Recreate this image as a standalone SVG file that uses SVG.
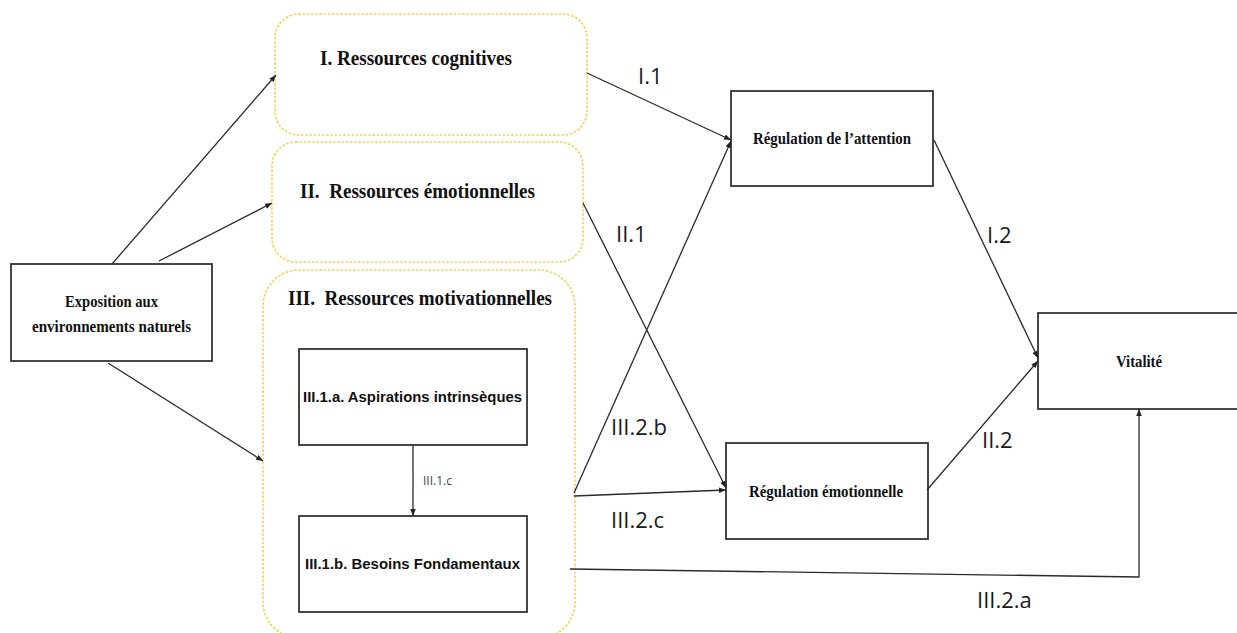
<svg xmlns="http://www.w3.org/2000/svg" width="1237" height="633" viewBox="0 0 1237 633">
<defs>
<marker id="arr" viewBox="0 0 10 10" refX="10" refY="5" markerWidth="7" markerHeight="7" orient="auto" markerUnits="userSpaceOnUse">
<path d="M0,1 L10,5 L0,9 z" fill="#222"/>
</marker>
<style>
.box{fill:#fff;stroke:#333;stroke-width:1.8}
.grp{fill:#fff;stroke:#f2cf4a;stroke-width:1.6;stroke-dasharray:1.2 3;stroke-linecap:round}
.edge{fill:none;stroke:#2a2a2a;stroke-width:1.3}
.tb{font-family:"Liberation Serif","Times New Roman",serif;font-weight:bold;fill:#111}
.ab{font-family:"Liberation Sans",Arial,sans-serif;font-weight:bold;fill:#111;font-size:15px}
.lbl{font-family:"Open Sans","Noto Sans",sans-serif;font-size:22px;fill:#1a1a1a}
.sm{font-family:"Open Sans","Noto Sans",sans-serif;font-size:12px;fill:#444}
</style>
</defs>
<rect width="1237" height="633" fill="#fff"/>

<g id="res-cognitives">
<rect class="grp" x="275" y="14" width="312" height="121" rx="24"/>
<text class="tb" x="320" y="65" font-size="21.5" textLength="192" lengthAdjust="spacingAndGlyphs">I. Ressources cognitives</text>
</g>
<g id="res-emotionnelles">
<rect class="grp" x="272" y="142" width="311" height="120" rx="24"/>
<text class="tb" x="300" y="198" font-size="21.5" xml:space="preserve" textLength="235" lengthAdjust="spacingAndGlyphs">II.  Ressources émotionnelles</text>
</g>
<g id="res-motivationnelles">
<rect class="grp" x="263" y="270" width="312" height="368" rx="36"/>
<text class="tb" x="288" y="305" font-size="21.5" xml:space="preserve" textLength="264" lengthAdjust="spacingAndGlyphs">III.  Ressources motivationnelles</text>
</g>
<g id="aspirations">
<rect class="box" x="299" y="349" width="228" height="96"/>
<text class="ab" x="303" y="402" textLength="219" lengthAdjust="spacingAndGlyphs">III.1.a. Aspirations intrinsèques</text>
</g>
<g id="besoins">
<rect class="box" x="299" y="516" width="228" height="96"/>
<text class="ab" x="305" y="569" textLength="215" lengthAdjust="spacingAndGlyphs">III.1.b. Besoins Fondamentaux</text>
</g>
<g id="exposition">
<rect class="box" x="11" y="264" width="201" height="97"/>
<text class="tb" x="111.5" y="307" font-size="16" text-anchor="middle" textLength="93" lengthAdjust="spacingAndGlyphs">Exposition aux</text>
<text class="tb" x="111.5" y="332" font-size="16" text-anchor="middle" textLength="159" lengthAdjust="spacingAndGlyphs">environnements naturels</text>
</g>
<g id="reg-attention">
<rect class="box" x="731" y="91" width="202" height="95"/>
<text class="tb" x="832" y="144" font-size="16" text-anchor="middle" textLength="158" lengthAdjust="spacingAndGlyphs">Régulation de l’attention</text>
</g>
<g id="reg-emotionnelle">
<rect class="box" x="726" y="443" width="202" height="96"/>
<text class="tb" x="826" y="497" font-size="16" text-anchor="middle" textLength="154" lengthAdjust="spacingAndGlyphs">Régulation émotionnelle</text>
</g>
<g id="vitalite">
<rect class="box" x="1038" y="313" width="205" height="96"/>
<text class="tb" x="1139" y="367" font-size="16" text-anchor="middle" textLength="46" lengthAdjust="spacingAndGlyphs">Vitalité</text>
</g>

<g id="connectors">
<path class="edge" d="M112,264 L276,75" marker-end="url(#arr)"/>
<path class="edge" d="M159,261 L272,203" marker-end="url(#arr)"/>
<path class="edge" d="M108,363 L263,461" marker-end="url(#arr)"/>
<path class="edge" d="M587,73 L731,140" marker-end="url(#arr)"/>
<path class="edge" d="M583,203 L726,488" marker-end="url(#arr)"/>
<path class="edge" d="M574,493 L731,141" marker-end="url(#arr)"/>
<path class="edge" d="M574,496 L726,490" marker-end="url(#arr)"/>
<path class="edge" d="M934,140 L1038,358" marker-end="url(#arr)"/>
<path class="edge" d="M927,490 L1038,361" marker-end="url(#arr)"/>
<path class="edge" d="M570,569 L1139,577 L1139,409" marker-end="url(#arr)"/>
<path class="edge" d="M413,445 L413,516" marker-end="url(#arr)"/>
</g>

<g id="labels">
<text class="lbl" x="638" y="84">I.1</text>
<text class="lbl" x="616" y="242">II.1</text>
<text class="lbl" x="987" y="243">I.2</text>
<text class="lbl" x="982" y="448">II.2</text>
<text class="lbl" x="611" y="435">III.2.b</text>
<text class="lbl" x="611" y="528">III.2.c</text>
<text class="lbl" x="977" y="608">III.2.a</text>
<text class="sm" x="423" y="485">III.1.c</text>
</g>
</svg>
